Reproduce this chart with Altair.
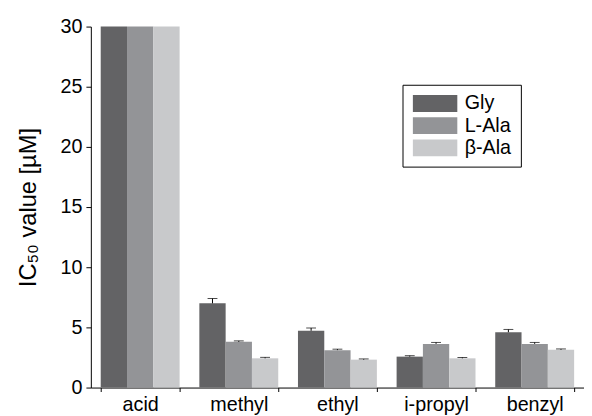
import altair as alt
import pandas as pd

categories = ["acid", "methyl", "ethyl", "i-propyl", "benzyl"]
series = ["Gly", "L-Ala", "β-Ala"]
gly = [30, 7.0, 4.72, 2.57, 4.6]
gly_err = [0, 0.4, 0.23, 0.08, 0.23]
lala = [30, 3.8, 3.11, 3.63, 3.63]
lala_err = [0, 0.08, 0.08, 0.12, 0.12]
bala = [30, 2.43, 2.32, 2.43, 3.14]
bala_err = [0, 0.08, 0.06, 0.07, 0.07]
colors = ["#636365", "#939497", "#c8c9cb"]

rows = []
for s, vals, errs in [("Gly", gly, gly_err), ("L-Ala", lala, lala_err), ("β-Ala", bala, bala_err)]:
    for c, v, e in zip(categories, vals, errs):
        rows.append({"cat": c, "series": s, "value": v, "hi": v + e, "err": e})
df = pd.DataFrame(rows)

FONT = "Liberation Sans"

x = alt.X("cat:N", sort=categories, title=None,
          scale=alt.Scale(paddingInner=0.2, paddingOuter=0.1),
          axis=alt.Axis(labelAngle=0, labelFontSize=20, labelFont=FONT, labelColor="black",
                        tickBand="extent", tickSize=4, tickColor="black", domainColor="black",
                        labelPadding=3))
xo = alt.XOffset("series:N", sort=series, scale=alt.Scale(paddingInner=0, paddingOuter=0))
y = alt.Y("value:Q", title="IC₅₀ value [µM]",
          scale=alt.Scale(domain=[0, 30], nice=False),
          axis=alt.Axis(values=[i * 2.5 for i in range(13)],
                        labelExpr="datum.value % 5 === 0 ? datum.label : ''",
                        labelOverlap=False, grid=False,
                        tickSize={"condition": {"test": "datum.value % 5 === 0", "value": 5}, "value": 2},
                        labelFontSize=20, labelFont=FONT, labelColor="black",
                        titleFontSize=24, titleFont=FONT, titleFontWeight="normal", titleColor="black",
                        titlePadding=20, tickColor="black", domainColor="black", labelPadding=4))

color = alt.Color("series:N", sort=series,
                  scale=alt.Scale(domain=series, range=colors),
                  legend=alt.Legend(title=None, orient="none", legendX=316, legendY=59,
                                    symbolType="M-1,-1H4.3V1H-1Z", symbolSize=289,
                                    symbolStrokeWidth=0, symbolOpacity=1,
                                    labelFontSize=20, labelFont=FONT, labelColor="black",
                                    rowPadding=2.5, padding=9, strokeColor="black",
                                    fillColor="white", labelOffset=34))

bars = alt.Chart(df).mark_bar(opacity=1).encode(x=x, xOffset=xo, y=y, color=color)

errdf = df[df["err"] > 0]
rules = alt.Chart(errdf).mark_rule(color="black", strokeWidth=1).encode(
    x=x, xOffset=xo, y="value:Q", y2="hi:Q")
caps = alt.Chart(errdf).mark_tick(color="black", thickness=1, size=10, orient="horizontal").encode(
    x=x, xOffset=xo, y="hi:Q")

chart = alt.layer(bars, rules, caps).properties(
    width=500, height=366,
    autosize=alt.AutoSizeParams(type="none"),
    padding={"left": 84, "top": 16, "right": 0, "bottom": 26},
).configure_view(stroke=None)

chart.save("out.html", embed_options={"renderer": "svg", "actions": False})
